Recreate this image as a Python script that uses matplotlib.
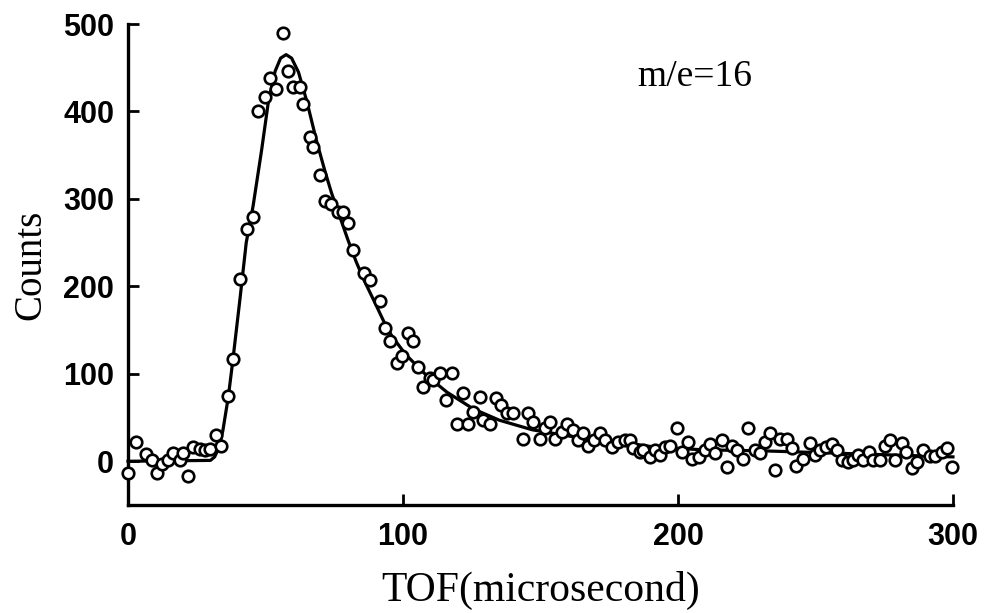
import matplotlib
matplotlib.use("Agg")
import matplotlib.pyplot as plt

# measured data points (TOF in microseconds, counts)
tof = [0, 2.9, 6.5, 8.8, 10.4, 12.2, 14.5, 16.3, 18.9, 20, 21.8, 23.8, 26.2, 28, 29.8,
       32, 33.8, 36.2, 38.3, 40.7, 43.2, 45.6, 47.4, 49.8, 51.6, 54, 56.5, 58.3, 60,
       62.5, 63.8, 66.2, 67.4, 69.8, 71.6, 74, 76.5, 78.3, 80, 82, 85.8, 88, 91.6,
       93.5, 95.3, 97.7, 99.5, 102, 103.8, 105.6, 107.4, 109.8, 111, 113.5, 115.8,
       117.7, 119.5, 122, 123.7, 125.6, 128, 129.2, 131.6, 134, 135.8, 137.7, 140,
       143.7, 145.5, 147.4, 149.8, 151.6, 153.5, 155.3, 157.7, 159.5, 162, 163.8,
       165.6, 167.4, 169.3, 171.6, 173.5, 175.9, 178.3, 180.7, 182.5, 183.7, 186.2,
       187.4, 190, 191.6, 193.5, 195.3, 197, 199.5, 201.3, 203.8, 205, 207.6, 210,
       211.6, 213.5, 215.9, 217.7, 219.5, 221.3, 223.8, 225.6, 228, 229.8, 231.6,
       233.5, 235.3, 237, 239.5, 241.3, 243, 245.5, 248, 249.8, 251.6, 254, 255.9,
       257.7, 259.5, 262, 263.8, 265.6, 267.4, 269.3, 271, 273.5, 275.3, 277, 279,
       281.3, 283, 285, 286.8, 289.2, 291.6, 293.5, 295.9, 297.7, 299.5]
counts = [-13, 22, 8, 2, -13, -3, 2, 10, 1, 9, -17, 16, 14, 13, 14,
          30, 18, 75, 117, 208, 266, 279, 401, 417, 438, 426, 490, 446, 428,
          428, 409, 371, 359, 327, 298, 294, 285, 285, 273, 242, 215, 207, 183,
          152, 137, 112, 120, 147, 137, 108, 85, 95, 93, 101, 70,
          101, 43, 78, 43, 56, 74, 47, 43, 72, 64, 55, 55,
          26, 55, 45, 26, 38, 45, 26, 34, 43, 36, 24,
          32, 18, 24, 32, 24, 16, 22, 24, 24, 15, 11,
          13, 5, 13, 7, 16, 18, 38, 11, 22, 3, 5, 13,
          20, 9, 24, -6, 18, 13, 3, 38, 13, 9, 22,
          32, -10, 25, 26, 15, -5, 3, 21, 7, 13, 16, 20,
          13, 1, -1, 1, 7, 1, 11, 1, 1, 17, 24, 1,
          21, 11, -8, -1, 13, 6, 6, 11, 15, -6]

# fitted curve
fit_tof = [0, 30, 31.5, 33, 34.5, 36.5, 38, 40.7, 43, 45.5, 48.6, 51, 53.5, 55.5, 57.5,
           59.5, 62, 65, 68.6, 71.6, 74, 77, 80, 83, 86, 90, 93, 96, 101, 108.6,
           116, 125.5, 135, 147, 162, 179, 192, 210, 230, 250, 270, 300]
fit_counts = [0, 1, 5, 15, 35, 74, 112, 185, 250, 292, 356, 410, 446, 461, 465,
              461, 445, 412, 366, 332, 307, 280, 253, 228, 206, 180, 160, 143, 122, 98,
              79, 60, 47, 36, 28, 22, 16, 13, 12, 10, 8, 5]

x_ticks = [0, 100, 200, 300]
y_ticks = [0, 100, 200, 300, 400, 500]

fig = plt.figure(figsize=(9.86, 6.13), dpi=100)
ax = fig.add_axes([0.1298, 0.1762, 0.8367, 0.7846])

ax.plot(fit_tof, fit_counts, color="black", lw=2.3, zorder=2, clip_on=False,
        solid_joinstyle="round")
ax.plot(tof, counts, linestyle="none", marker="o", ms=8.3, mfc="white",
        mec="black", mew=1.9, zorder=3, clip_on=False)

ax.set_xlim(0, 300)
ax.set_ylim(-50, 500)
ax.set_xticks(x_ticks)
ax.set_yticks(y_ticks)

for side in ("top", "right"):
    ax.spines[side].set_visible(False)
for side in ("left", "bottom"):
    ax.spines[side].set_linewidth(2.4)

ax.tick_params(direction="in", length=8, width=2.0)
ax.tick_params(axis="x", pad=12)
ax.tick_params(axis="y", pad=10)
for lab in ax.get_xticklabels() + ax.get_yticklabels():
    lab.set_fontfamily("Liberation Sans")
    lab.set_fontweight("bold")
    lab.set_fontsize(22)

ax.set_xlabel("TOF(microsecond)", fontfamily="Liberation Serif", fontsize=30, labelpad=14)
ax.set_ylabel("Counts", fontfamily="Liberation Serif", fontsize=28, labelpad=10)

ax.text(206, 440, "m/e=16", fontfamily="Liberation Serif", fontsize=27,
        ha="center", va="center")

fig.savefig("out.png", dpi=100)
